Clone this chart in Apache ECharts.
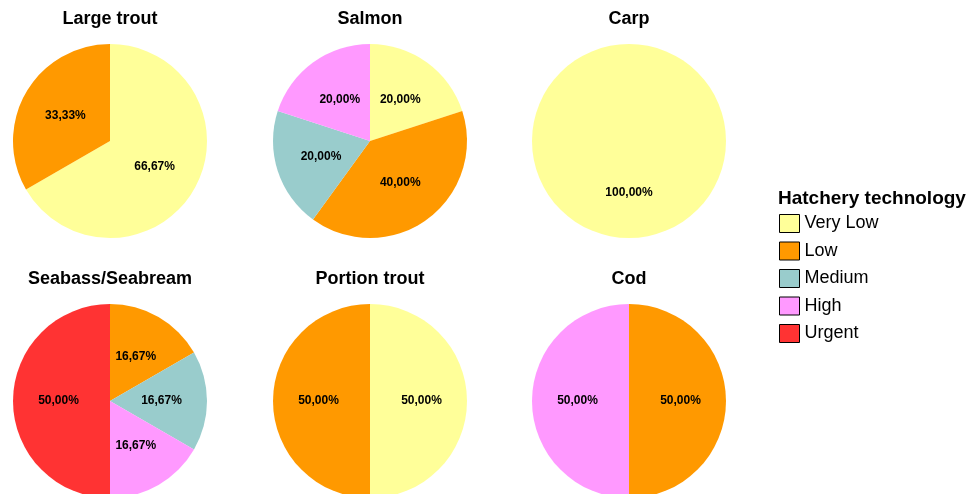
<!DOCTYPE html>
<html>
<head>
<meta charset="utf-8">
<script src="https://cdn.jsdelivr.net/npm/echarts@6/dist/echarts.min.js"></script>
<style>
  html, body { margin: 0; padding: 0; background: #fff; }
  #chart { width: 972px; height: 494px; }
</style>
</head>
<body>
<div id="chart"></div>
<script>
// categories and colours
const levels = ['Very Low', 'Low', 'Medium', 'High', 'Urgent']
const levelColors = ['#FFFF99', '#FF9900', '#99CCCC', '#FF99FF', '#FF3333']

// one pie per species (counts per level, slices go clockwise from 12 o'clock)
const species = ['Large trout', 'Salmon', 'Carp', 'Seabass/Seabream', 'Portion trout', 'Cod']
const largeTrout = [['Very Low', 2], ['Low', 1]]
const salmon = [['Very Low', 1], ['Low', 2], ['Medium', 1], ['High', 1]]
const carp = [['Very Low', 1]]
const seabass = [['Low', 1], ['Medium', 1], ['High', 1], ['Urgent', 3]]
const portionTrout = [['Very Low', 1], ['Low', 1]]
const cod = [['Low', 1], ['High', 1]]
const speciesData = [largeTrout, salmon, carp, seabass, portionTrout, cod]

// pie layout
const centers = [[110, 141], [370, 141], [629, 141], [110, 401], [370, 401], [629, 401]]
const radius = 97
const font = 'Liberation Sans, Arial, sans-serif'

const colorOf = name => levelColors[levels.indexOf(name)]

// percent like "66,67%" (plain rounding, no largest-remainder fix)
function pct(value, rows) {
    let sum = 0
    rows.forEach(r => { sum += r[1] })
    return (value / sum * 100).toFixed(2).replace('.', ',') + '%'
}

const titles = species.map((s, i) => ({
    text: s,
    left: centers[i][0],
    top: centers[i][1] - 131,
    textAlign: 'center',
    padding: 0,
    textStyle: { fontFamily: font, fontSize: 18, fontWeight: 'bold', color: '#000' }
}))
// legend title
titles.push({
    text: 'Hatchery technology',
    left: 778,
    top: 189,
    padding: 0,
    textStyle: { fontFamily: font, fontSize: 19, fontWeight: 'bold', color: '#000' }
})

const series = species.map((s, i) => ({
    type: 'pie',
    name: s,
    center: centers[i],
    radius: radius,
    startAngle: 90,
    clockwise: true,
    animation: false,
    avoidLabelOverlap: false,
    emphasis: { disabled: true },
    itemStyle: { borderWidth: 0 },
    label: {
        show: true,
        position: 'inside',
        color: '#000',
        fontSize: 12,
        fontWeight: 'bold',
        fontFamily: font,
        formatter: p => pct(p.value, speciesData[i])
    },
    labelLine: { show: false },
    data: speciesData[i].map(d => ({ name: d[0], value: d[1], itemStyle: { color: colorOf(d[0]) } }))
}))

const chart = echarts.init(document.getElementById('chart'))
chart.setOption({
    backgroundColor: '#fff',
    title: titles,
    legend: {
        orient: 'vertical',
        left: 779,
        top: 214,
        padding: 0,
        data: levels,
        icon: 'rect',
        itemWidth: 20,
        itemHeight: 18,
        itemGap: 8.5,
        selectedMode: false,
        itemStyle: { borderColor: '#000', borderWidth: 1 },
        textStyle: { fontFamily: font, fontSize: 18, color: '#000', padding: [0, 0, 0, 0] }
    },
    series: series
})
</script>
</body>
</html>
